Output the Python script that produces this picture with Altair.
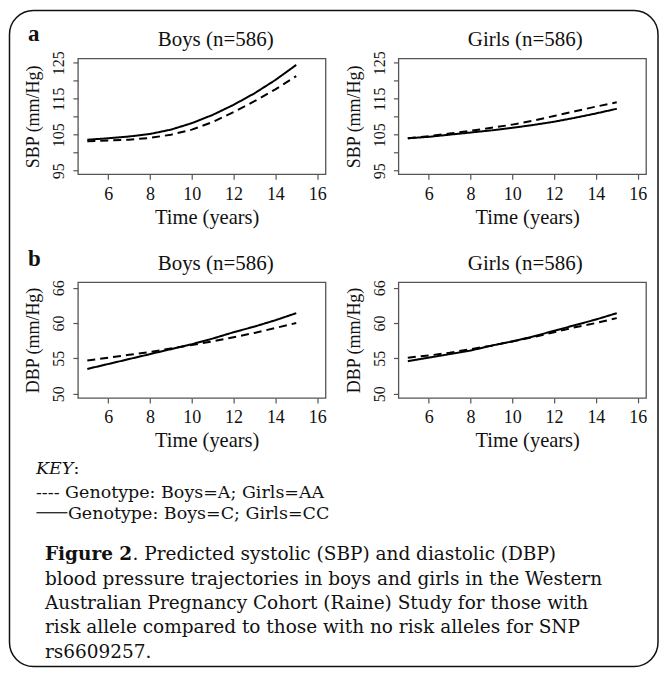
import altair as alt
import pandas as pd

# ---------------- data ----------------
ages = [5, 6, 7, 8, 9, 10, 11, 12, 13, 14, 15]

sbp_boys_A = [103.2, 103.4, 103.6, 104.1, 105.0, 106.4, 108.5, 111.3, 114.3, 117.6, 121.3]
sbp_boys_C = [103.6, 104.0, 104.5, 105.2, 106.4, 108.2, 110.5, 113.3, 116.5, 120.2, 124.4]
sbp_girls_AA = [104.0, 104.6, 105.3, 106.1, 106.9, 107.8, 108.9, 110.2, 111.5, 112.8, 114.0]
sbp_girls_CC = [104.0, 104.4, 105.0, 105.6, 106.2, 106.9, 107.7, 108.6, 109.7, 110.9, 112.2]

dbp_boys_A = [54.7, 55.1, 55.5, 55.9, 56.4, 56.9, 57.4, 58.0, 58.6, 59.3, 60.0]
dbp_boys_C = [53.5, 54.2, 54.9, 55.6, 56.3, 57.0, 57.8, 58.7, 59.5, 60.4, 61.4]
dbp_girls_AA = [55.1, 55.4, 55.8, 56.3, 56.8, 57.4, 58.0, 58.7, 59.4, 60.0, 60.7]
dbp_girls_CC = [54.6, 55.1, 55.6, 56.1, 56.8, 57.4, 58.1, 58.9, 59.7, 60.5, 61.4]

x_ticks = [6, 8, 10, 12, 14, 16]
sbp_ticks = [95, 100, 105, 110, 115, 120, 125]
dbp_ticks = [50, 55, 60, 65]

panel_titles = ["Boys (n=586)", "Girls (n=586)"]
x_title = "Time (years)"
sbp_title = "SBP (mm/Hg)"
dbp_title = "DBP (mm/Hg)"

key_lines = ["---- Genotype: Boys=A; Girls=AA", "Genotype: Boys=C; Girls=CC"]
caption_bold = "Figure 2"
caption_lines = [
    ". Predicted systolic (SBP) and diastolic (DBP)",
    "blood pressure trajectories in boys and girls in the Western",
    "Australian Pregnancy Cohort (Raine) Study for those with",
    "risk allele compared to those with no risk alleles for SNP",
    "rs6609257.",
]

FONT = "Liberation Serif"
CAP_FONT = "DejaVu Serif"
W, H = 248, 116
one = pd.DataFrame({"k": [0]})


def series(values, genotype):
    return pd.DataFrame({"age": ages, "value": values, "genotype": genotype})


def txt(text, x, y, size, weight="normal", style="normal", align="left", font=FONT):
    return (
        alt.Chart(one)
        .mark_text(text=text, align=align, baseline="alphabetic", font=font,
                   fontSize=size, fontWeight=weight, fontStyle=style, color="#111")
        .encode(x=alt.value(x), y=alt.value(y))
    )


def panel(frames, title, title_x, ytitle, ydomain, yticks, label_expr):
    data = pd.concat(frames, ignore_index=True)
    lines = (
        alt.Chart(data)
        .mark_line(color="black", strokeWidth=2)
        .encode(
            x=alt.X(
                "age:Q",
                scale=alt.Scale(domain=[4.55, 16.4], nice=False, zero=False),
                axis=alt.Axis(
                    values=x_ticks,
                    title=x_title,
                    labelFontSize=18,
                    labelBaseline="alphabetic",
                    labelPadding=20,
                    titleFontSize=20.5,
                    titleX=W / 2 + 5,
                    titleY=49,
                    titleBaseline="alphabetic",
                ),
            ),
            y=alt.Y(
                "value:Q",
                scale=alt.Scale(domain=ydomain, nice=False, zero=False),
                axis=alt.Axis(
                    values=yticks,
                    labelExpr=label_expr,
                    title=ytitle,
                    labelAngle=270,
                    labelAlign="center",
                    labelBaseline="alphabetic",
                    labelFontSize=16,
                    labelPadding=9,
                    titleFontSize=18,
                    titleAngle=270,
                    titleX=-44,
                    titleY=H / 2,
                    titleAlign="center",
                    titleBaseline="middle",
                ),
            ),
            strokeDash=alt.StrokeDash(
                "genotype:N",
                scale=alt.Scale(domain=["risk", "none"], range=[[8, 5], [1, 0]]),
                legend=None,
            ),
        )
    )
    head = txt(title, title_x, -12, 21, align="center")
    return [lines, head]


sbp_expr = "datum.value % 10 == 5 ? datum.label : ''"
dbp_expr = "datum.value == 65 ? '66' : datum.label"

a_boys = panel([series(sbp_boys_A, "risk"), series(sbp_boys_C, "none")],
               panel_titles[0], 138, sbp_title, [94.0, 126.2], sbp_ticks, sbp_expr)
a_girls = panel([series(sbp_girls_AA, "risk"), series(sbp_girls_CC, "none")],
                panel_titles[1], 127, sbp_title, [94.0, 126.2], sbp_ticks, sbp_expr)
b_boys = panel([series(dbp_boys_A, "risk"), series(dbp_boys_C, "none")],
               panel_titles[0], 138, dbp_title, [49.4, 65.8], dbp_ticks, dbp_expr)
b_girls = panel([series(dbp_girls_AA, "risk"), series(dbp_girls_CC, "none")],
                panel_titles[1], 127, dbp_title, [49.4, 65.8], dbp_ticks, dbp_expr)

# ---------------- annotations (positioned relative to top-left plot) --------
border = (
    alt.Chart(one)
    .mark_rect(fillOpacity=0, stroke="#111", strokeWidth=1.5, cornerRadius=24)
    .encode(x=alt.value(-68.5), y=alt.value(-48), x2=alt.value(581), y2=alt.value(609))
)

key_rule = (
    alt.Chart(one)
    .mark_rule(color="#111", strokeWidth=1.2)
    .encode(x=alt.value(-41.5), x2=alt.value(-10.5), y=alt.value(455))
)

key_size = 17.5
cap_size = 18.5
bold_w = 4.742 * cap_size
cap_y = [502.5, 527, 551, 575, 600]

annotations = [
    border,
    txt("a", -50, -17, 23, weight="bold"),
    txt("b", -50, 208, 23, weight="bold"),
    txt("KEY", -42, 416, key_size, style="italic", font=CAP_FONT),
    txt(":", -42 + 2.15 * key_size, 416, key_size, font=CAP_FONT),
    txt(key_lines[0], -42, 440, key_size, font=CAP_FONT),
    key_rule,
    txt(key_lines[1], -10, 461, key_size, font=CAP_FONT),
    txt(caption_bold, -33, cap_y[0], cap_size, weight="bold", font=CAP_FONT),
    txt(caption_lines[0], -33 + bold_w, cap_y[0], cap_size, font=CAP_FONT),
]
for line, yy in zip(caption_lines[1:], cap_y[1:]):
    annotations.append(txt(line, -33, yy, cap_size, font=CAP_FONT))

cells = [
    alt.layer(*a_boys, *annotations).properties(width=W, height=H),
    alt.layer(*a_girls).properties(width=W, height=H),
    alt.layer(*b_boys).properties(width=W, height=H),
    alt.layer(*b_girls).properties(width=W, height=H),
]

chart = (
    alt.concat(*cells, columns=2, spacing={"row": 108, "column": 73}, bounds="flush")
    .properties(padding=0, background="white")
    .configure_view(stroke="#555", strokeWidth=1.3)
    .configure_axis(
        labelFont=FONT,
        titleFont=FONT,
        titleFontWeight="normal",
        labelColor="#111",
        titleColor="#111",
        domain=False,
        grid=False,
        tickColor="#555",
        tickSize=5,
        tickWidth=1.2,
    )
)

chart.save("out.html", embed_options={"renderer": "svg", "actions": False})
